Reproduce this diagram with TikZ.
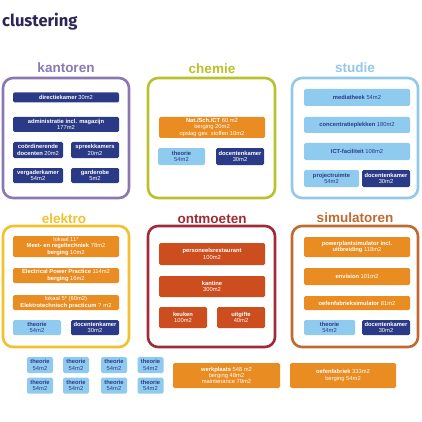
\documentclass[tikz,border=0pt]{standalone}
\usepackage{fontspec}
\setmainfont{Liberation Sans}
\newfontfamily\titlefont{Fira Sans}
\definecolor{titlecol}{HTML}{2E2455}
\definecolor{kantorencol}{HTML}{8A78B4}
\definecolor{chemiecol}{HTML}{B8C22A}
\definecolor{studiecol}{HTML}{92C8E8}
\definecolor{elektrocol}{HTML}{F2C12E}
\definecolor{ontmoetencol}{HTML}{A02A35}
\definecolor{simulatorencol}{HTML}{C06A2F}
\definecolor{darkbox}{HTML}{2B3A87}
\definecolor{orangebox}{HTML}{E98C22}
\definecolor{redbox}{HTML}{CC4E1E}
\definecolor{lightbox}{HTML}{8FCBEE}
\tikzset{
  panel/.style={draw=#1, line width=2.6pt, rounded corners=10pt},
  paneltitle/.style={text=#1, anchor=base, inner sep=0pt, font=\fontsize{13.5}{15}\selectfont\bfseries},
  room/.style={fill=#1, text=white, rounded corners=1.5pt, align=center, inner sep=0pt,
    font=\fontsize{5.8}{6.3}\selectfont},
  roomlight/.style={room=lightbox, text=darkbox},
  wh/.style 2 args={minimum width=#1pt, minimum height=#2pt}
}
\begin{document}
\begin{tikzpicture}[x=1pt, y=-1pt]
\useasboundingbox (0,0) rectangle (422,422);
\node[anchor=base west, inner sep=0pt, text=titlecol, font=\titlefont\fontsize{16.5}{18}\selectfont\bfseries] (clustering) at (2,27) {clustering};

\draw[panel=kantorencol] (3,78) rectangle (129,198);
\draw[panel=chemiecol] (148,78) rectangle (275,198);
\draw[panel=studiecol] (292,78) rectangle (418,198);
\draw[panel=elektrocol] (3,226) rectangle (129,347);
\draw[panel=ontmoetencol] (148,226) rectangle (275,347);
\draw[panel=simulatorencol] (292,226) rectangle (418,347);

\node[paneltitle=kantorencol] (kantoren) at (66,73) {kantoren};
\node[paneltitle=chemiecol] (chemie) at (212,74) {chemie};
\node[paneltitle=studiecol] (studie) at (355,73) {studie};
\node[paneltitle=elektrocol] (elektro) at (64,223) {elektro};
\node[paneltitle=ontmoetencol] (ontmoeten) at (212,223) {ontmoeten};
\node[paneltitle=simulatorencol] (simulatoren) at (355,222) {simulatoren};

\node[room=darkbox, wh={106}{10}] (directie) at (66,97.5) {\textbf{directiekamer} 30m2};
\node[room=darkbox, wh={106}{15}] (administratie) at (66,124.5) {\textbf{administratie incl. magazijn}\\177m2};
\node[room=darkbox, wh={50}{16}] (coordinerende) at (38,150) {\textbf{coördinerende}\\\textbf{docenten} 20m2};
\node[room=darkbox, wh={48}{16}] (spreekkamers) at (95,150) {\textbf{spreekkamers}\\20m2};
\node[room=darkbox, wh={50}{15}] (vergaderkamer) at (38,175.5) {\textbf{vergaderkamer}\\54m2};
\node[room=darkbox, wh={48}{15}] (garderobe) at (95,175.5) {\textbf{garderobe}\\5m2};

\node[room=orangebox, wh={106}{21}] (natsch) at (212,127.5) {\textbf{Nat./Sch./CT} 60 m2\\berging 20m2\\opslag gev. stoffen 10m2};
\node[roomlight, wh={47}{17}] (chemietheorie) at (181.5,156.5) {\textbf{theorie}\\54m2};
\node[room=darkbox, wh={48}{17}] (chemiedocenten) at (240,156.5) {\textbf{docentenkamer}\\30m2};

\node[roomlight, wh={106}{17}] (mediatheek) at (357,97.5) {\textbf{mediatheek} 54m2};
\node[roomlight, wh={106}{16}] (concentratie) at (357,125) {\textbf{concentratieplekken} 180m2};
\node[roomlight, wh={106}{17}] (ict) at (357,151.5) {\textbf{ICT-faciliteit} 108m2};
\node[roomlight, wh={55}{17}] (projectruimte) at (331.5,178.5) {\textbf{projectruimte}\\54m2};
\node[room=darkbox, wh={48}{17}] (studiedocenten) at (386,178.5) {\textbf{docentenkamer}\\30m2};

\node[room=orangebox, wh={106}{21}] (lokaal11) at (66,246.5) {lokaal 11*\\\textbf{Meet- en regeltechniek} 78m2\\\textbf{berging} 10m2};
\node[room=orangebox, wh={106}{15}] (electrical) at (66,275.5) {\textbf{Electrical Power Practice} 114m2\\\textbf{berging} 16m2};
\node[room=orangebox, wh={106}{15}] (lokaal5) at (66,302.5) {lokaal 5* (60m2)\\\textbf{Elektrotechnisch practicum} ? m2};
\node[roomlight, wh={48}{15}] (elektrotheorie) at (37,327.5) {\textbf{theorie}\\54m2};
\node[room=darkbox, wh={48}{15}] (elektrodocenten) at (95,327.5) {\textbf{docentenkamer}\\30m2};

\node[room=redbox, wh={106}{22}] (restaurant) at (212,254) {\textbf{personeelsrestaurant}\\100m2};
\node[room=redbox, wh={106}{21}] (kantine) at (212,286.5) {\textbf{kantine}\\300m2};
\node[room=redbox, wh={48}{21}] (keuken) at (183,317.5) {\textbf{keuken}\\100m2};
\node[room=redbox, wh={48}{21}] (uitgifte) at (241,317.5) {\textbf{uitgifte}\\40m2};

\node[room=orangebox, wh={106}{20}] (powerplant) at (357,247) {\textbf{powerplantsimulator incl.}\\\textbf{uitbreiding} 118m2};
\node[room=orangebox, wh={106}{17}] (envision) at (357,276.5) {\textbf{envision} 101m2};
\node[room=orangebox, wh={106}{14}] (oefensim) at (357,303) {\textbf{oefenfabrieksimulator} 81m2};
\node[roomlight, wh={51}{15}] (simtheorie) at (329.5,327.5) {\textbf{theorie}\\54m2};
\node[room=darkbox, wh={48}{15}] (simdocenten) at (386,327.5) {\textbf{docentenkamer}\\30m2};

\foreach \i/\x in {1/40,2/76,3/114,4/150.5}
  \foreach \j/\y in {1/365,2/385.5}
    \node[roomlight, wh={26}{16}] (theorie\i\j) at (\x,\y) {\textbf{theorie}\\54m2};

\node[room=orangebox, wh={107}{25}] (werkplaats) at (226.5,375.5) {\textbf{werkplaats} 548 m2\\berging 48m2\\maintenance 79m2};
\node[room=orangebox, wh={106}{25}] (oefenfabriek) at (343,375.5) {\textbf{oefenfabriek} 333m2\\berging 54m2};
\end{tikzpicture}
\end{document}
